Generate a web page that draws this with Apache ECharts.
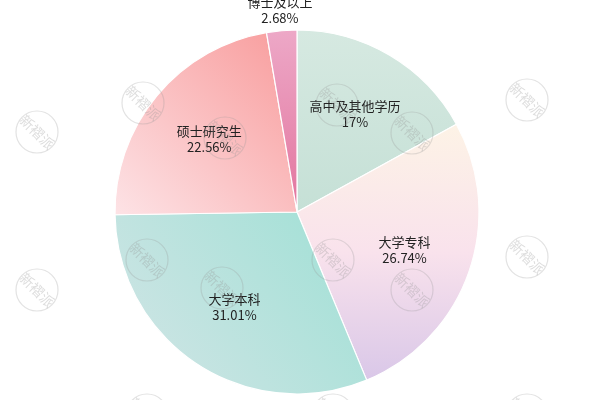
<!DOCTYPE html>
<html><head><meta charset="utf-8">
<script src="https://cdn.jsdelivr.net/npm/echarts@6/dist/echarts.min.js"></script>
<style>html,body{margin:0;padding:0;background:#fff}#c{width:600px;height:400px}</style>
</head><body><div id="c"></div>
<script>
const categories = ['高中及其他学历', '大学专科', '大学本科', '硕士研究生', '博士及以上'];
const percents = [17, 26.74, 31.01, 22.56, 2.68];

const grads = [
  {x:0,y:0,x2:0,y2:1,stops:['#d6e9e1','#c5e0d6']},
  {x:0,y:0,x2:0,y2:1,stops:['#fdf3e6','#f9e2ec','#d9c7e8']},
  {x:1,y:0,x2:0,y2:1,stops:['#9fe0d5','#d3e5e6']},
  {x:1,y:0,x2:0,y2:1,stops:['#f89b9b','#fde3e6']},
  {x:0,y:0,x2:0,y2:1,stops:['#eda8c7','#e2759e']}
];
function mkGrad(g){
  const n = g.stops.length;
  return new echarts.graphic.LinearGradient(g.x,g.y,g.x2,g.y2,
    g.stops.map((c,i)=>({offset: n===1?0:i/(n-1), color:c})));
}
const mainData = categories.map((name,i)=>({name, value: percents[i], itemStyle:{color: mkGrad(grads[i])}}));
const labelFmt = p => p.name + '\n' + p.value + '%';
const innerLabelData = categories.map((name,i)=>({name, value: percents[i], label:{show: i !== 4}}));
const outerLabelData = categories.map((name,i)=>({name, value: percents[i], label:{show: i === 4}}));

const center = [297, 212];
const labelStyle = {position:'inside', formatter: labelFmt, color:'#222', fontSize:13, lineHeight:16,
  fontFamily:'"Noto Sans CJK SC", sans-serif'};

// watermarks
const wmPos = [[143,103],[337,105],[527,100],[147,260],[333,260],[527,257],[147,415],[333,415],[527,415],
  [37,132],[225,138],[412,133],[37,290],[222,288],[412,290],[37,-22],[230,-22],[413,-22]];
const graphics = [];
wmPos.forEach(p=>{
  graphics.push({type:'circle', x:p[0], y:p[1], z:100, silent:true, shape:{cx:0,cy:0,r:21},
    style:{fill:'none', stroke:'rgba(150,150,150,0.28)', lineWidth:1.2}});
  graphics.push({type:'text', x:p[0], y:p[1], z:101, silent:true, rotation:-Math.PI/4,
    style:{text:'新褶派', x:0, y:0, align:'center', verticalAlign:'middle',
      fill:'rgba(150,150,150,0.32)', fontSize:14, fontFamily:'"Noto Sans CJK SC", sans-serif'}});
});

const chart = echarts.init(document.getElementById('c'), null, {renderer:'canvas'});
chart.setOption({
  animation:false,
  backgroundColor:'#fff',
  graphic: graphics,
  series:[
    {type:'pie', center, radius:[0,182], startAngle:90, clockwise:true, silent:true, z:1,
      label:{show:false}, labelLine:{show:false},
      itemStyle:{borderColor:'#fff', borderWidth:1.2},
      data: mainData},
    {type:'pie', center, radius:[40,182], startAngle:90, clockwise:true, silent:true, z:2,
      itemStyle:{color:'rgba(0,0,0,0)'}, labelLine:{show:false},
      label: labelStyle, data: innerLabelData},
    {type:'pie', center, radius:[190,210], startAngle:90, clockwise:true, silent:true, z:2,
      itemStyle:{color:'rgba(0,0,0,0)'}, labelLine:{show:false},
      label: labelStyle, data: outerLabelData}
  ]
});
</script></body></html>
